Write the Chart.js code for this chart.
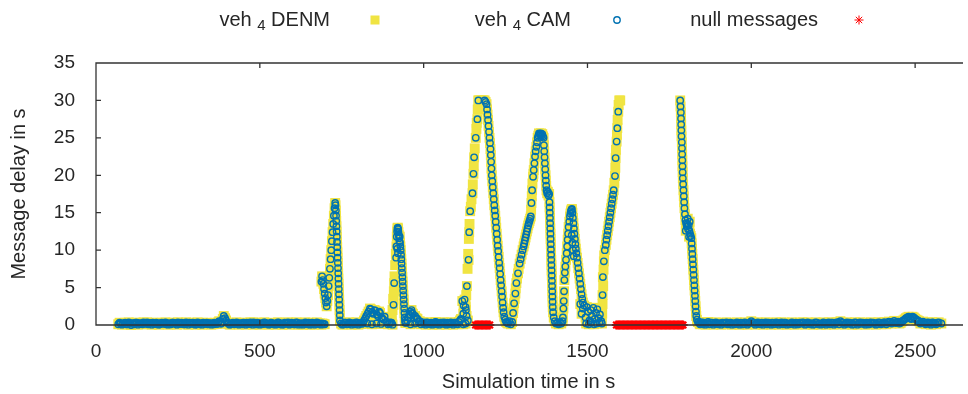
<!DOCTYPE html>
<html>
<head>
<meta charset="utf-8">
<title>Message delay</title>
<script src="https://cdn.jsdelivr.net/npm/chart.js@4.4.1/dist/chart.umd.min.js"></script>
<style>
  body { margin: 0; background: #fff; }
  canvas { display: block; }
</style>
</head>
<body>
<canvas id="delayChart" width="968" height="394"></canvas>
<script>
// values (time in s, delay in s)
const base1Times = [68,75,82,89,96,103,110,117,124,131,138,145,152,159,166,173,180,187,194,201,208,215,222,229,236,243,250,257,264,271,278,285,292,299,306,313,320,327,334,341,348,355,362,369,376,383,390,397,404,411,418,425,432,439,446,453,460,467,474,481,488,495,502,509,516,523,530,537,544,551,558,565,572,579,586,593,600,607,614,621,628,635,642,649,656,663,670,677,684,691,698];
const base1Delays = [0.1,0.2,0.15,0.3,0.1,0.2,0.25,0.1,0.3,0.2,
    0.15,0.35,0.2,0.1,0.25,0.3,0.15,0.2,0.1,0.3,
    0.2,0.15,0.25,0.1,0.3,0.2,0.35,0.15,0.2,0.1,
    0.25,0.3,0.15,0.2,0.1,0.25,0.2,0.3,0.15,0.1,
    0.2,0.25,0.3,0.15,0.5,0.2,1.2,0.6,0.2,0.1,
    0.3,0.2,0.15,0.25,0.1,0.2,0.3,0.15,0.2,0.35,
    0.1,0.2,0.25,0.15,0.3,0.2,0.1,0.25,0.2,0.15,
    0.3,0.2,0.1,0.25,0.35,0.15,0.2,0.1,0.3,0.2,
    0.25,0.15,0.2,0.3,0.1,0.2,0.15,0.25,0.2,0.2,0.1];
const base1bTimes = [72,79,86,93,100,107,114,121,128,135,142,149,156,163,170,177,184,191,198,205,212,219,226,233,240,247,254,261,268,275,282,289,296,303,310,317,324,331,338,345,352,359,366,373,380,387,394,401,408,415,422,429,436,443,450,457,464,471,478,485,492,499,506,513,520,527,534,541,548,555,562,569,576,583,590,597,604,611,618,625,632,639,646,653,660,667,674,681,688,695];
const base1bDelays = [0.3,0.05,0.25,0.1,0.35,0.0,0.2,0.3,0.05,0.25,
    0.1,0.2,0.35,0.25,0.05,0.15,0.3,0.05,0.25,0.15,
    0.35,0.05,0.1,0.3,0.2,0.05,0.15,0.3,0.1,0.35,
    0.05,0.2,0.3,0.05,0.35,0.1,0.05,0.2,0.3,0.25,
    0.05,0.1,0.15,0.35,0.2,0.8,0.9,0.3,0.05,0.25,
    0.1,0.35,0.05,0.2,0.3,0.05,0.15,0.35,0.05,0.2,
    0.3,0.05,0.1,0.35,0.15,0.05,0.3,0.1,0.05,0.35,
    0.1,0.05,0.3,0.15,0.05,0.3,0.1,0.35,0.05,0.1,
    0.05,0.35,0.1,0.05,0.3,0.05,0.35,0.1,0.05,0.15];

const peak1Times = [688,690,692,694,696,698,700,702,704,706,708,710,712,714,716,718,720,722,724,726,728,730,731,732,732.6,733.2,733.8,734.4,735,735.6,736.2,736.8,737.4,738,738.6,739.2,739.8,740.4,741,741.6,742.2,742.8,743.4,744,744.6];
const peak1Delays = [5.8,6.5,6.0,5.5,4.8,4.2,3.6,3.0,2.5,3.2,4.0,5.2,6.3,7.5,8.8,10.0,11.2,12.4,13.5,14.6,15.6,16.3,16.0,15.3,14.6,13.9,13.2,12.5,11.8,11.1,10.4,9.7,9.0,8.3,7.6,6.9,6.2,5.5,4.8,4.1,3.4,2.7,2.0,1.3,0.6];

const base2Times = [748,755,762,769,776,783,790,797,804,811,818,825,832,839,846,853,860,867,874,881,888,895,902,822,829,836,843,850,857,864,871,878,828,842,856,870,
    752,759,766,773,780,787,794,801,808,815,891,898,905];
const base2Delays = [0.2,0.1,0.3,0.15,0.2,0.25,0.1,0.3,0.2,0.15,0.6,1.2,1.8,2.1,1.5,1.9,1.2,1.6,0.9,1.1,0.4,0.2,0.3,0.9,1.5,2.2,1.7,2.0,1.4,1.8,1.0,0.7,0.2,0.1,0.2,0.15,
    0.05,0.3,0.1,0.35,0.05,0.2,0.35,0.05,0.25,0.3,0.1,0.35,0.05];

const peak2Times = [908,910,916,917,918,919,919.5,920,921,921.5,922,923,924,925,926,927,928,929,930,931,931.8,932.6,933.4,934.2,935,935.8,936.6,937.4,938.2,939,939.8,940.6,941.4,942.2,943,943.8];
const peak2Delays = [2.7,5.6,9.0,10.5,11.8,12.5,10.2,12.9,13.0,9.6,12.8,12.4,12.0,11.6,11.2,11.8,11.0,10.5,10.0,9.4,8.8,8.2,7.6,7.0,6.4,5.8,5.2,4.6,4.0,3.4,2.8,2.2,1.6,1.0,0.6,0.3];

const base3Times = [946,953,960,967,974,981,988,995,1002,1009,1016,1023,1030,1037,1044,1051,1058,1065,1072,1079,1086,1093,1100,1107,1114,1121,1128,1135,956,963,970,1118,1122,1125,1129,1131,960,974,1121,1128,
    950,964,978,985,992,999,1006,1013,1020,1027,1034,1041,1048,1055,1062,1069,1076,1083,1090,1097,1104,1111];
const base3Delays = [0.3,1.0,1.8,1.5,1.2,0.8,0.5,0.3,0.2,0.35,0.15,0.3,0.2,0.4,0.25,0.3,0.15,0.2,0.3,0.25,0.2,0.3,0.15,0.4,0.8,1.5,2.4,0.6,1.4,2.0,1.0,3.2,2.6,3.4,2.0,1.2,0.1,0.2,0.1,0.2,
    0.6,1.6,0.9,0.4,0.1,0.35,0.05,0.3,0.1,0.05,0.35,0.1,0.05,0.3,0.35,0.05,0.1,0.35,0.05,0.3,0.1,0.6];

const rise1Times = [1132,1137,1139,1142,1149,1152,1154,1159,1164,1167];
const rise1Delays = [5.2,8.7,12.4,15.2,17.6,20.2,22.4,25.0,27.5,30.0];

const fall1Times = [1186,1189,1192,1193.5,1195,1196.5,1198,1199.5,1201,1202.5,1204,1205,1206,1207,1208,1209.5,1211,1212.5,1214,1215.5,1217,1218.5,1220,1221.5,1223,1224.5,1226,1227.5,1229,1230.5,1232,1233.5,1235,1236.5,1238,1239.5,1241,1242.5,1244,1246,1249,1252,1255,1258,1262,1266,1270];
const fall1Delays = [30.0,29.8,29.5,28.8,28.1,27.4,26.6,25.8,25.0,24.3,23.5,22.7,21.8,20.9,20.0,19.2,18.4,17.6,16.8,16.0,15.3,14.6,13.8,13.0,12.2,11.4,10.6,9.9,9.1,8.3,7.6,6.8,6.0,5.3,4.5,3.8,3.0,2.3,1.7,1.1,0.7,0.4,0.3,0.2,0.5,0.1,0.4];

const rise2Times = [1273,1276,1280,1283,1288,1293,1296,1299,1302,1305,1307,1309,1311,1313,1315,1317,1319,1321,1323,1325,1327,1329,1331,1334,1336,1338,1340,1342,1344,1346,1348,1350,1352,1354,1356,1358,1360,1362,1364,1366];
const rise2Delays = [1.6,2.9,4.2,5.6,6.9,8.2,8.8,9.4,10.0,10.5,10.9,11.3,11.7,12.1,12.5,12.9,13.3,13.6,13.9,14.2,14.5,16.3,18.0,19.8,20.7,21.6,22.5,23.2,23.8,24.4,25.0,25.3,25.6,25.5,25.4,25.6,25.3,25.5,25.2,25.0];

const fall2Times = [1367,1368,1369,1370,1371,1372,1373,1374,1375,1377,1379,1381,1383,1384,1384.5,1385,1385.5,1386,1386.5,1387,1387.5,1388,1388.5,1389,1389.5,1390,1390.5,1391,1391.5,1392,1392.5,1393,1393.5,1394,1395,1397,1400,1404,1408,1412,1416,1420,1424];
const fall2Delays = [24.0,23.2,22.4,21.6,20.8,20.0,19.3,18.6,18.0,17.6,17.8,17.3,17.5,16.4,15.7,15.0,14.3,13.6,12.9,12.2,11.5,10.8,10.1,9.4,8.7,8.0,7.3,6.6,5.9,5.2,4.5,3.8,3.1,2.4,1.7,1.0,0.5,0.2,0.3,0.1,0.4,0.2,0.5];

const peak3Times = [1425,1426.5,1427.5,1428.5,1429.5,1431,1432.5,1434.5,1436.5,1438,1439.5,1441,1442.5,1444.5,1446.5,1448,1449.5,1451,1452.5,
    1454,1455.5,1457,1458.5,1460,1461.5,1463,1464.5,1466,1468,1470,1472,1474,1476,1478,1480,1482,1484,1486,
    1452,1454,1456,1458,
    1478,1482,1486,1490,1494,1498,1502,1506,1510,1514,1518,1522,1526,1530,1534,1538,1542,
    1496,1504,1512,1520,1528,1536,1544];
const peak3Delays = [1.0,2.2,3.2,4.5,6.0,7.0,7.8,8.7,9.6,10.5,11.4,12.2,13.1,13.8,14.5,14.9,15.2,15.4,15.5,
    15.0,14.3,13.6,12.9,12.2,11.5,10.8,10.2,9.6,9.0,8.3,7.6,6.9,6.2,5.5,4.8,4.1,3.5,3.0,
    12.0,11.0,10.0,9.2,
    2.8,1.5,2.2,2.6,1.0,2.4,1.8,0.6,2.0,1.2,2.3,0.8,1.6,2.1,0.9,1.4,0.5,
    0.2,0.1,0.3,0.1,0.2,0.3,0.2];

const rise4Times = [1546,1547,1550,1553,1556,1558,1560,1562,1564,1566,1568,1570,1572,1574,1576,1578,1580,1584,1586,1589,1591,1594];
const rise4Delays = [4.0,6.4,8.5,10.0,10.7,11.4,12.0,12.6,13.2,13.8,14.4,15.0,15.6,16.2,16.8,17.4,18.0,19.9,22.3,24.5,26.3,28.5];

const fall5Times = [1783,1784,1785,1785.5,1786,1786.5,1787,1788,1788.5,1789,1789.5,1790,1790.5,1791,1792,1793,1794,1795,1796,1797.5,1799,1801,1803,1805,1807,1809,1811,1813,1815,1817,1818,1819,1820,1821,1822,1823,1824,1825,1826,1827,1828,1829,1830,1831,1832,1834,1837,1842,1847,1852,1800,1806,1812,1810];
const fall5Delays = [30.0,29.2,28.4,27.6,26.8,26.0,25.2,24.4,23.6,22.8,22.0,21.2,20.4,19.6,18.8,18.0,17.2,16.4,15.6,14.8,14.0,13.6,13.2,13.5,12.8,13.3,12.6,12.2,11.9,11.6,10.9,10.2,9.5,8.8,8.1,7.4,6.7,6.0,5.3,4.6,3.9,3.2,2.5,1.8,1.2,0.7,0.4,0.2,0.3,0.1,12.6,14.2,13.8,11.8];

const base4Times = [1840,1848,1856,1864,1872,1880,1888,1896,1904,1912,1920,1928,1936,1944,1952,1960,1968,1976,1984,1992,2000,2008,2016,2024,2032,2040,2048,2056,2064,2072,2080,2088,2096,2104,2112,2120,2128,2136,2144,2152,2160,2168,2176,2184,2192,2200,2208,2216,2224,2232,2240,2248,2256,2264,2272,2280,2288,2296,2304,2312,2320,2328,2336,2344,2352,2360,2368,2376,2384,2392,2400,2408,2416,2424,2432,2440,2448,2456,2464,2472,2480,2488,2496,2504,2512,2520,2528,2536,2544,2552,2560,2568];
const base4Delays = [0.4,0.3,0.2,0.25,0.1,0.3,0.2,0.15,0.25,0.3,
    0.2,0.1,0.3,0.25,0.15,0.2,0.3,0.1,0.25,0.2,
    0.5,0.3,0.2,0.15,0.3,0.25,0.1,0.2,0.3,0.15,
    0.25,0.2,0.1,0.3,0.2,0.15,0.25,0.3,0.1,0.2,
    0.3,0.15,0.2,0.25,0.1,0.3,0.2,0.15,0.25,0.2,
    0.1,0.3,0.2,0.35,0.5,0.3,0.2,0.15,0.25,0.1,
    0.3,0.2,0.15,0.25,0.3,0.1,0.2,0.25,0.15,0.3,
    0.2,0.35,0.3,0.4,0.3,0.35,0.45,0.3,0.6,0.9,
    1.1,0.8,1.0,0.7,0.5,0.3,0.25,0.3,0.2,0.35,
    0.25,0.3];
const base4bTimes = [1844,1852,1860,1868,1876,1884,1892,1900,1908,1916,1924,1932,1940,1948,1956,1964,1972,1980,1988,1996,2004,2012,2020,2028,2036,2044,2052,2060,2068,2076,2084,2092,2100,2108,2116,2124,2132,2140,2148,2156,2164,2172,2180,2188,2196,2204,2212,2220,2228,2236,2244,2252,2260,2268,2276,2284,2292,2300,2308,2316,2324,2332,2340,2348,2356,2364,2372,2380,2388,2396,2404,2412,2420,2428,2436,2444,2452,2460,2468,2476,2484,2492,2500,2508,2516,2524,2532,2540,2548,2556,2564,2572,2580];
const base4bDelays = [0.1,0.35,0.05,0.4,0.3,0.05,0.35,0.1,0.05,0.2,
    0.35,0.25,0.05,0.1,0.35,0.05,0.1,0.35,0.05,0.3,
    0.3,0.05,0.35,0.1,0.05,0.35,0.3,0.05,0.1,0.35,
    0.05,0.35,0.3,0.05,0.1,0.35,0.05,0.1,0.3,0.35,
    0.05,0.35,0.1,0.05,0.35,0.1,0.05,0.35,0.05,0.35,
    0.3,0.05,0.35,0.1,0.3,0.05,0.35,0.3,0.05,0.35,
    0.05,0.35,0.3,0.05,0.1,0.35,0.3,0.05,0.35,0.1,
    0.35,0.1,0.45,0.2,0.55,0.25,0.2,0.5,0.75,1.0,
    0.9,1.1,0.85,0.6,0.2,0.45,0.1,0.35,0.05,0.3,
    0.1,0.35,0.2];

// DENM samples that fill the rising edges between the CAM markers
const denmFillTimes = [903,905,907,909,911,913,915,
    1128,1130,1134,1136,1138,1140,1144,1146,1150,1153,1156,1161,1162,1165,1168,1172,1176,1180,1183,
    1274,1278,1281,1285,1290,1328,1330,1332,1335,
    1545,1546,1548,1549,1551,1582,1585,1587,1590,1592,1595,1597,1600];
const denmFillDelays = [1.0,2.0,3.5,4.5,6.5,8.0,9.5,
    3.0,4.0,7.5,9.5,11.5,13.5,15.8,16.8,18.8,21.2,23.6,26.2,27.0,28.8,30.0,30.0,30.0,30.0,30.0,
    2.2,3.5,4.9,6.2,7.5,15.4,17.2,18.9,20.2,
    1.5,2.8,5.2,7.4,9.3,19.0,21.0,23.4,25.4,27.4,29.4,30.0,30.0];

// null messages (logged at zero delay)
const null1Times = [1158,1162,1166,1170,1174,1178,1182,1186,1190,1194,1198,1202];
const null2Times = [1588,1592,1596,1600,1604,1608,1612,1616,1620,1624,1628,1632,1636,1640,1644,1648,1652,1656,1660,1664,1668,1672,1676,1680,1684,1688,1692,1696,1700,1704,1708,1712,1716,1720,1724,1728,1732,1736,1740,1744,1748,1752,1756,1760,1764,1768,1772,1776,1780,1784,1788,1792];

const xTickValues = [0, 500, 1000, 1500, 2000, 2500];
const yTickValues = [0, 5, 10, 15, 20, 25, 30, 35];

const FONT_FAMILY = '"Liberation Sans", Arial, Helvetica, sans-serif';
const TEXT_COLOR = '#262626';
const DENM_COLOR = '#f0e442';
const CAM_COLOR = '#0072b2';
const NULL_COLOR = '#ff0000';

function toPoints(times, delays) {
    return times.map((t, i) => ({ x: t, y: delays[i] }));
}

const camSegments = [
    [base1Times, base1Delays], [base1bTimes, base1bDelays], [peak1Times, peak1Delays],
    [base2Times, base2Delays], [peak2Times, peak2Delays], [base3Times, base3Delays],
    [rise1Times, rise1Delays], [fall1Times, fall1Delays], [rise2Times, rise2Delays],
    [fall2Times, fall2Delays], [peak3Times, peak3Delays], [rise4Times, rise4Delays],
    [fall5Times, fall5Delays], [base4Times, base4Delays], [base4bTimes, base4bDelays]
];

const camPoints = [];
camSegments.forEach(seg => camPoints.push(...toPoints(seg[0], seg[1])));
const denmPoints = camPoints.concat(toPoints(denmFillTimes, denmFillDelays));
const nullPoints = null1Times.concat(null2Times).map(t => ({ x: t, y: 0 }));

// frame, inward ticks and the gnuplot style key
const framePlugin = {
    id: 'frame',
    afterDatasetsDraw(chart) {
        const { ctx, chartArea: a, scales } = chart;
        ctx.save();
        ctx.strokeStyle = '#333';
        ctx.lineWidth = 1.3;
        ctx.beginPath();
        ctx.moveTo(a.right + 2, a.top);
        ctx.lineTo(a.left, a.top);
        ctx.lineTo(a.left, a.bottom);
        ctx.lineTo(a.right + 2, a.bottom);
        yTickValues.forEach(v => {
            const y = scales.y.getPixelForValue(v);
            ctx.moveTo(a.left, y);
            ctx.lineTo(a.left + 5, y);
        });
        xTickValues.forEach(v => {
            const x = scales.x.getPixelForValue(v);
            ctx.moveTo(x, a.bottom);
            ctx.lineTo(x, a.bottom - 5);
            ctx.moveTo(x, a.top);
            ctx.lineTo(x, a.top + 5);
        });
        ctx.stroke();
        ctx.restore();
    },
    afterDraw(chart) {
        const ctx = chart.ctx;
        ctx.save();
        const y = 20;
        drawKeyText(ctx, 330, y, ['veh', '4', 'DENM']);
        drawKeyText(ctx, 571, y, ['veh', '4', 'CAM']);
        drawKeyText(ctx, 818, y, ['null messages']);

        ctx.fillStyle = DENM_COLOR;
        ctx.fillRect(375 - 4.5, y - 4.5, 9, 9);

        ctx.strokeStyle = CAM_COLOR;
        ctx.lineWidth = 1.4;
        ctx.beginPath();
        ctx.arc(617, y, 3.2, 0, Math.PI * 2);
        ctx.stroke();

        ctx.strokeStyle = NULL_COLOR;
        ctx.lineWidth = 1;
        ctx.beginPath();
        const r = 4.5, d = r * Math.SQRT1_2;
        ctx.moveTo(859 - r, y); ctx.lineTo(859 + r, y);
        ctx.moveTo(859, y - r); ctx.lineTo(859, y + r);
        ctx.moveTo(859 - d, y - d); ctx.lineTo(859 + d, y + d);
        ctx.moveTo(859 - d, y + d); ctx.lineTo(859 + d, y - d);
        ctx.stroke();
        ctx.restore();
    }
};

function drawKeyText(ctx, endX, y, parts) {
    const mainFont = '20px ' + FONT_FAMILY;
    const subFont = '15px ' + FONT_FAMILY;
    ctx.fillStyle = TEXT_COLOR;
    ctx.textBaseline = 'middle';
    ctx.textAlign = 'left';
    if (parts.length === 1) {
        ctx.font = mainFont;
        ctx.textAlign = 'right';
        ctx.fillText(parts[0], endX, y);
        return;
    }
    ctx.font = mainFont;
    const w1 = ctx.measureText(parts[0] + ' ').width;
    const w3 = ctx.measureText(' ' + parts[2]).width;
    ctx.font = subFont;
    const w2 = ctx.measureText(parts[1]).width;
    let x = endX - w1 - w2 - w3;
    ctx.font = mainFont;
    ctx.fillText(parts[0] + ' ', x, y);
    x += w1;
    ctx.font = subFont;
    ctx.fillText(parts[1], x, y + 6);
    x += w2;
    ctx.font = mainFont;
    ctx.fillText(' ' + parts[2], x, y);
}

const ctx = document.getElementById('delayChart');

new Chart(ctx, {
    type: 'scatter',
    data: {
        datasets: [
            {
                label: 'veh 4 DENM',
                data: denmPoints,
                pointStyle: 'rect',
                pointRadius: 7,
                pointBorderWidth: 0,
                backgroundColor: DENM_COLOR,
                borderColor: DENM_COLOR,
                clip: false,
                order: 3
            },
            {
                label: 'veh 4 CAM',
                data: camPoints,
                pointStyle: 'circle',
                pointRadius: 3.2,
                pointBorderWidth: 1.4,
                backgroundColor: 'rgba(0,0,0,0)',
                borderColor: CAM_COLOR,
                clip: false,
                order: 2
            },
            {
                label: 'null messages',
                data: nullPoints,
                pointStyle: 'star',
                pointRadius: 4.5,
                pointBorderWidth: 2,
                backgroundColor: NULL_COLOR,
                borderColor: NULL_COLOR,
                clip: false,
                order: 1
            }
        ]
    },
    options: {
        responsive: false,
        animation: false,
        devicePixelRatio: 1,
        events: [],
        layout: { padding: { top: 63, right: 0, bottom: 0, left: 0 } },
        plugins: {
            legend: { display: false },
            tooltip: { enabled: false }
        },
        scales: {
            x: {
                type: 'linear',
                min: 0,
                max: 2640,
                afterFit: scale => { scale.height = 69; },
                afterBuildTicks: scale => { scale.ticks = xTickValues.map(v => ({ value: v })); },
                grid: { display: false, drawTicks: false },
                border: { display: false },
                ticks: {
                    autoSkip: false,
                    maxRotation: 0,
                    padding: 15,
                    color: TEXT_COLOR,
                    font: { family: FONT_FAMILY, size: 19 },
                    callback: v => String(v)
                },
                title: {
                    display: true,
                    text: 'Simulation time in s',
                    color: TEXT_COLOR,
                    font: { family: FONT_FAMILY, size: 20 },
                    padding: { top: 0, bottom: 0 }
                }
            },
            y: {
                type: 'linear',
                min: 0,
                max: 35,
                afterFit: scale => { scale.width = 96; },
                afterBuildTicks: scale => { scale.ticks = yTickValues.map(v => ({ value: v })); },
                grid: { display: false, drawTicks: false },
                border: { display: false },
                ticks: {
                    padding: 21,
                    color: TEXT_COLOR,
                    font: { family: FONT_FAMILY, size: 19 },
                    callback: v => String(v)
                },
                title: {
                    display: true,
                    text: 'Message delay in s',
                    color: TEXT_COLOR,
                    font: { family: FONT_FAMILY, size: 20 },
                    padding: { top: 7, bottom: 0 }
                }
            }
        }
    },
    plugins: [framePlugin]
});
</script>
</body>
</html>
